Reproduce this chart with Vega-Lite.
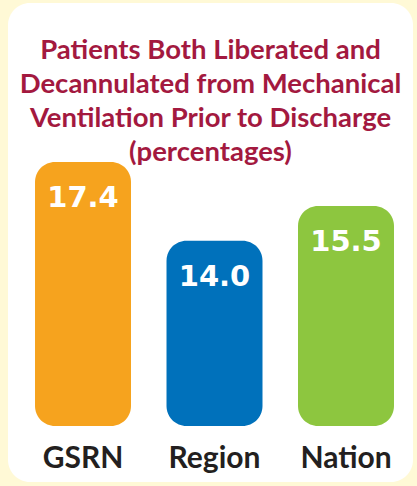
{
  "$schema": "https://vega.github.io/schema/vega-lite/v6.json",
  "width": 405,
  "height": 479,
  "autosize": {"type": "none"},
  "padding": {"left": 8, "top": 3, "right": 4, "bottom": 4},
  "background": "#FFF9D6",
  "config": {"view": {"fill": "white", "stroke": null, "cornerRadius": 22}},
  "title": {
    "text": ["Patients Both Liberated and", "Decannulated from Mechanical", "Ventilation Prior to Discharge", "(percentages)"],
    "font": "Lato",
    "fontSize": 27.5,
    "fontWeight": "bold",
    "color": "#A3193F",
    "lineHeight": 34,
    "anchor": "middle",
    "frame": "group",
    "offset": -163
  },
  "data": {
    "values": [
      {"group": "GSRN", "pct": 17.4},
      {"group": "Region", "pct": 14.0},
      {"group": "Nation", "pct": 15.5}
    ]
  },
  "encoding": {
    "x": {
      "field": "group",
      "type": "nominal",
      "sort": null,
      "scale": {"paddingInner": 0.27, "paddingOuter": 0.175, "align": 0.587},
      "axis": {
        "title": null,
        "domain": false,
        "ticks": false,
        "tickSize": 0,
        "labelPadding": 0,
        "offset": -15,
        "labelBaseline": "alphabetic",
        "labelFont": "Lato",
        "labelFontSize": 30,
        "labelFontWeight": "bold",
        "labelColor": "#231F20",
        "labelAngle": 0
      }
    }
  },
  "layer": [
    {
      "mark": {"type": "bar", "cornerRadius": 20},
      "encoding": {
        "y": {"field": "pct", "type": "quantitative", "scale": {"domain": [3.59, 24.26], "zero": false, "nice": false}, "axis": null},
        "y2": {"datum": 6.01},
        "color": {
          "field": "group",
          "type": "nominal",
          "scale": {"domain": ["GSRN", "Region", "Nation"], "range": ["#F6A31E", "#0071BB", "#8DC63F"]},
          "legend": null
        }
      }
    },
    {
      "mark": {"type": "text", "font": "DejaVu Sans", "fontWeight": "bold", "fontSize": 29, "color": "white", "baseline": "alphabetic", "dy": 45},
      "encoding": {
        "y": {"field": "pct", "type": "quantitative"},
        "text": {"field": "pct", "type": "quantitative", "format": ".1f"}
      }
    }
  ]
}
